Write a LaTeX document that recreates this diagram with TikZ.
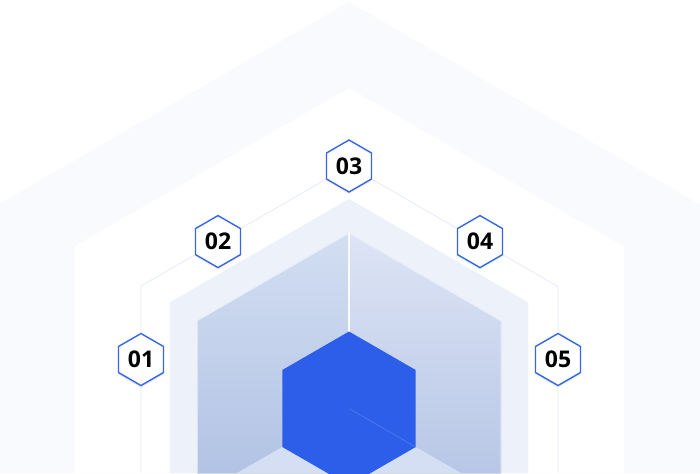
\documentclass[tikz,border=0pt]{standalone}
\usepackage{fontspec}
\setsansfont{Open Sans}
\usetikzlibrary{shapes.geometric, shadows}

\definecolor{outerpale}{RGB}{248,250,254}
\definecolor{band}{RGB}{237,241,250}
\definecolor{guideline}{RGB}{228,235,250}
\definecolor{leftTop}{RGB}{211,222,242}
\definecolor{leftBot}{RGB}{178,195,228}
\definecolor{rightTop}{RGB}{221,228,245}
\definecolor{rightBot}{RGB}{184,199,230}
\definecolor{floor}{RGB}{213,223,244}
\definecolor{cubeblue}{RGB}{44,94,234}
\definecolor{hexblue}{RGB}{53,101,232}

\begin{document}
\begin{tikzpicture}[x=1pt, y=-1pt,
        hexnode/.style={regular polygon, regular polygon sides=6, shape border rotate=30, draw=hexblue, line width=1.4pt, fill=white, minimum size=52pt, inner sep=0pt, font=\sffamily\bfseries\fontsize{23}{23}\selectfont},
        glow/.style={drop shadow={fill=#1, opacity=0.25, shadow xshift=0pt, shadow yshift=-2pt}},
        guide/.style={draw=guideline, line width=0.8pt},
        edge/.style={draw=#1, line width=1.4pt}
    ]
    \useasboundingbox (0,0) rectangle (700,473);
    \clip (0,0) rectangle (700,473);

    \fill[outerpale] (0,203.5) -- (349,2) -- (700,204.6) -- (700,473) -- (0,473) -- cycle;
    \fill[white] (75,246) -- (349,88) -- (624,246.7) -- (624,473) -- (75,473) -- cycle;
    \fill[band] (170,302.3) -- (349,199) -- (528,302.3) -- (528,473) -- (170,473) -- cycle;
    \fill[top color=leftTop, bottom color=leftBot] (197,320.7) -- (349,233) -- (349,473) -- (197,473) -- cycle;
    \fill[top color=rightTop, bottom color=rightBot] (349,233) -- (501,320.7) -- (501,473) -- (349,473) -- cycle;
    \draw[band, line width=1pt] (197,474) -- (197,320.7) -- (349,233) -- (501,320.7) -- (501,474);
    \fill[floor] (237,473) -- (282.3,447) -- (415.7,447) -- (461,473) -- cycle;
    \draw[edge={white!70!band}] (349,233) -- (349,332);
    \fill[cubeblue] (349,331.5) -- (415.7,370) -- (415.7,447) -- (349,485.5) -- (282.3,447) -- (282.3,370) -- cycle;
    \draw[edge={cubeblue!85!white}, line width=0.8pt] (349,408.5) -- (415.7,447);

    \coordinate (lb) at (141,473);
    \coordinate (lc) at (141,286);
    \coordinate (rc) at (558,286.6);
    \coordinate (rb) at (558,473);

    \node[hexnode, glow=blue!40] (n01) at (141,359.5) {01};
    \node[hexnode, glow=orange!50] (n02) at (218,241.6) {02};
    \node[hexnode, glow=orange!60] (n03) at (349,166) {03};
    \node[hexnode, glow=green!50] (n04) at (480,241.6) {04};
    \node[hexnode, glow=teal!50] (n05) at (558,359.5) {05};

    \draw[guide] (lb) -- (n01) -- (lc) -- (n02) -- (n03) -- (n04) -- (rc) -- (n05) -- (rb);
\end{tikzpicture}
\end{document}
